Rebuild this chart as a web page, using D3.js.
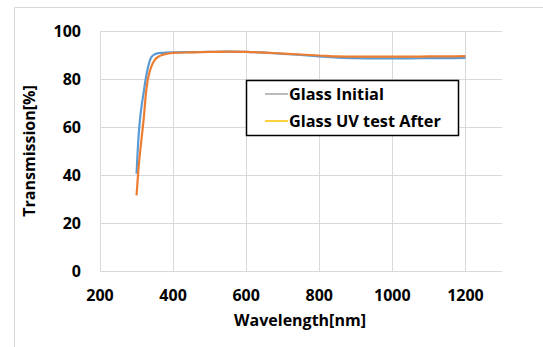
<!DOCTYPE html>
<html>
<head>
<meta charset="utf-8">
<script src="https://cdn.jsdelivr.net/npm/d3@7"></script>
<style>
  body { margin: 0; background: #fff; }
  text { font-family: "Open Sans", "Noto Sans", sans-serif; font-weight: bold; fill: #000; }
</style>
</head>
<body>
<svg id="chart" width="543" height="347"></svg>
<script>
const wavelengths = [300, 305, 310, 315, 320, 325, 330, 335, 340, 350, 360, 370, 380, 400, 450, 500, 550, 600, 650, 700, 750, 800, 850, 900, 950, 1000, 1050, 1100, 1150, 1200];
const initialValues = [40.5, 55, 64, 70, 75, 80, 84, 87, 89, 90.3, 90.8, 90.9, 91, 91.1, 91.2, 91.3, 91.4, 91.3, 91, 90.5, 90, 89.4, 88.9, 88.7, 88.6, 88.6, 88.6, 88.7, 88.7, 88.8];
const afterValues = [31.5, 42, 50, 57, 64, 73, 79, 82.5, 85, 88, 89.3, 90, 90.4, 90.9, 91.1, 91.3, 91.4, 91.3, 91, 90.6, 90.2, 89.8, 89.4, 89.3, 89.3, 89.3, 89.3, 89.4, 89.4, 89.5];
const xTicks = [200, 400, 600, 800, 1000, 1200];
const yTicks = [0, 20, 40, 60, 80, 100];

const series = [
  { name: "Glass Initial", values: initialValues, color: "#5b9bd5", legendColor: "#a5a5a5" },
  { name: "Glass UV test After", values: afterValues, color: "#ed7d31", legendColor: "#ffc000" },
];

const svg = d3.select("#chart");
const width = 543, height = 347;

const x = d3.scaleLinear().domain([200, 1300]).range([100, 502]);
const y = d3.scaleLinear().domain([0, 100]).range([271, 31]);

// outer frame
svg.append("path")
  .attr("d", `M14.5,${height} V7.5 H${width}`)
  .attr("fill", "none")
  .attr("stroke", "#d9d9d9");

// grid
const grid = svg.append("g").attr("stroke", "#d9d9d9").attr("stroke-width", 1);
grid.selectAll("line.h")
  .data(yTicks)
  .join("line")
  .attr("x1", x(200)).attr("x2", x(1300))
  .attr("y1", d => Math.round(y(d)) + 0.5).attr("y2", d => Math.round(y(d)) + 0.5);
grid.selectAll("line.v")
  .data(xTicks)
  .join("line")
  .attr("y1", y(0)).attr("y2", y(100))
  .attr("x1", d => Math.round(x(d)) + 0.5).attr("x2", d => Math.round(x(d)) + 0.5);

// tick labels
svg.append("g").attr("text-anchor", "end")
  .selectAll("text")
  .data(yTicks)
  .join("text")
  .attr("x", 81)
  .attr("y", d => y(d))
  .attr("dy", "0.35em")
  .attr("font-size", 16)
  .text(d => d);

svg.append("g").attr("text-anchor", "middle")
  .selectAll("text")
  .data(xTicks)
  .join("text")
  .attr("x", d => x(d))
  .attr("y", 295)
  .attr("dy", "0.35em")
  .attr("font-size", 16)
  .text(d => d);

// axis titles
svg.append("text")
  .attr("x", 300).attr("y", 320)
  .attr("dy", "0.35em")
  .attr("text-anchor", "middle")
  .attr("font-size", 16)
  .text("Wavelength[nm]");

svg.append("text")
  .attr("transform", "translate(29,151) rotate(-90)")
  .attr("dy", "0.35em")
  .attr("text-anchor", "middle")
  .attr("font-size", 16)
  .text("Transmission[%]");

// curves
const line = d3.line()
  .x((d, i) => x(wavelengths[i]))
  .y(d => y(d))
  .curve(d3.curveMonotoneX);

svg.append("g")
  .selectAll("path")
  .data(series)
  .join("path")
  .attr("fill", "none")
  .attr("stroke", d => d.color)
  .attr("stroke-width", 2.2)
  .attr("stroke-linejoin", "round")
  .attr("d", d => line(d.values));

// legend
const legend = svg.append("g");
legend.append("rect")
  .attr("x", 246.5).attr("y", 80.5)
  .attr("width", 212).attr("height", 55)
  .attr("fill", "#fff")
  .attr("stroke", "#000")
  .attr("stroke-width", 1.5);

const items = legend.selectAll("g")
  .data(series)
  .join("g")
  .attr("transform", (d, i) => `translate(0,${94 + i * 27})`);
items.append("line")
  .attr("x1", 265).attr("x2", 288)
  .attr("stroke", d => d.legendColor)
  .attr("stroke-width", 1.5);
items.append("text")
  .attr("x", 289)
  .attr("dy", "0.35em")
  .attr("font-size", 16.3)
  .text(d => d.name);
</script>
</body>
</html>
